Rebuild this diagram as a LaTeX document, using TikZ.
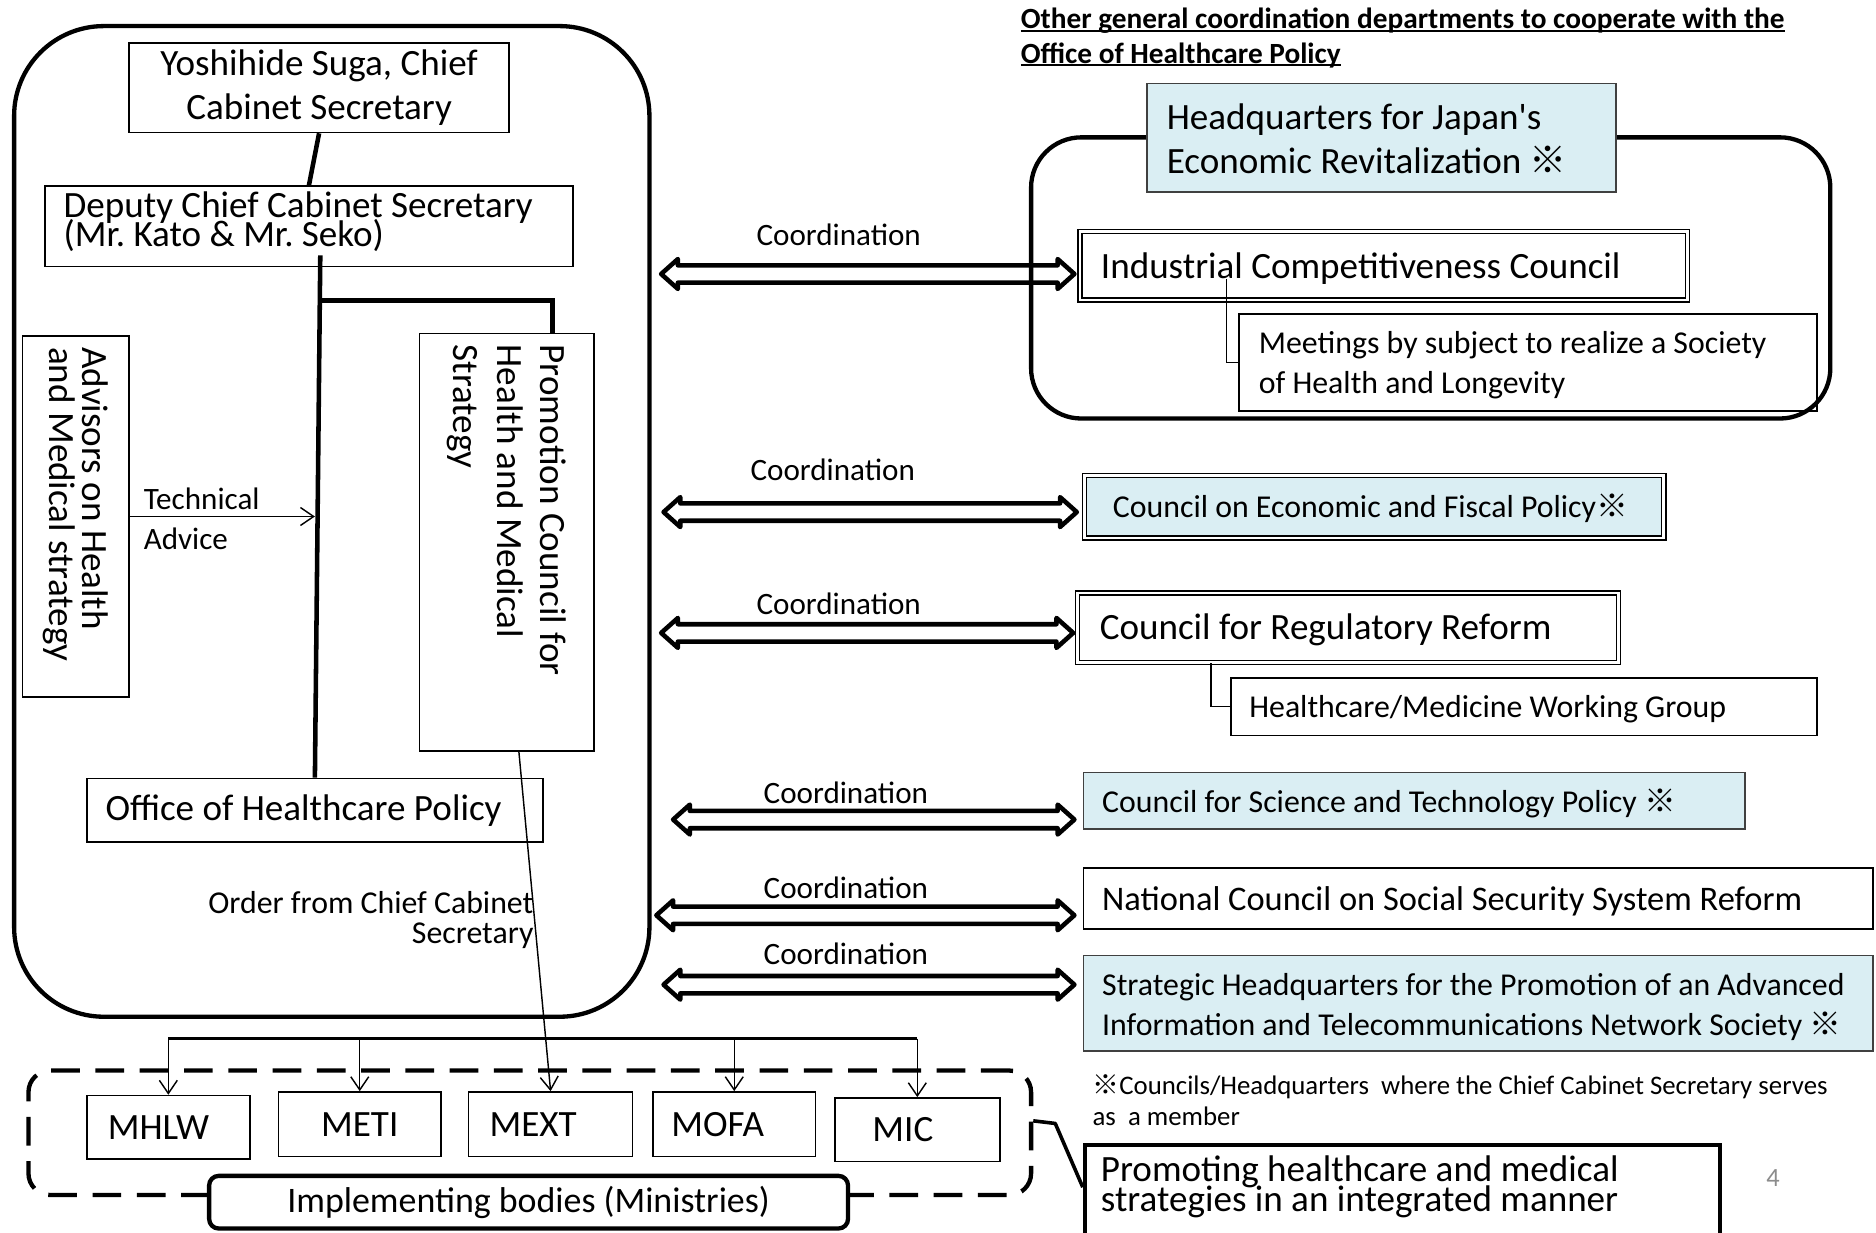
\documentclass[tikz,border=0pt]{standalone}
\usepackage{fontspec}
\setmainfont{Carlito}
\newfontfamily\cjkfont{Noto Sans CJK JP}
\usetikzlibrary{arrows.meta,calc}
\definecolor{lblue}{RGB}{218,238,243}
\definecolor{pgnum}{RGB}{140,140,140}
\newcommand\kome{{\cjkfont ※}}
\newcommand\ulx[1]{\setbox0\hbox{#1}\rlap{\rule[-2.8pt]{\wd0}{1.6pt}}\box0}
\newcommand\fsBig{\fontsize{31}{37}\selectfont\frenchspacing}
\newcommand\fsMed{\fontsize{26.6}{33}\selectfont}
\newcommand\fsDep{\fontsize{31}{24}\selectfont\lineskiplimit=-40pt\frenchspacing}
\newcommand\fsAdv{\fontsize{31}{28}\selectfont\lineskiplimit=-40pt}
\newcommand\fsPC{\fontsize{31}{36.5}\selectfont}
\newcommand\fsOrd{\fontsize{26.6}{25}\selectfont\lineskiplimit=-40pt}
\newcommand\fsPro{\fontsize{31}{25}\selectfont\lineskiplimit=-40pt}
\newcommand\fsNat{\fontsize{28.8}{34}\selectfont}
\newcommand\fsImp{\fontsize{30}{36}\selectfont}
\newcommand\fsHead{\bfseries\fontsize{24.5}{29}\selectfont}
\newcommand\fsFoot{\fontsize{22.4}{26}\selectfont}
\newcommand\fsCo{\fontsize{26}{31}\selectfont}
\newcommand\fsNum{\fontsize{22}{26}\selectfont}
\newcommand\dblarr[2]{%
  \draw[dblarrow] let \p1=#1, \p2=#2 in
   (\x1,\y1) -- (\x1+14pt,\y1+12.5pt) -- (\x1+14pt,\y1+7.25pt) -- (\x2-14pt,\y1+7.25pt)
   -- (\x2-14pt,\y1+12.5pt) -- (\x2,\y1) -- (\x2-14pt,\y1-12.5pt) -- (\x2-14pt,\y1-7.25pt)
   -- (\x1+14pt,\y1-7.25pt) -- (\x1+14pt,\y1-12.5pt) -- cycle;}
\begin{document}
\begin{tikzpicture}[x=1pt,y=-1pt,
  box/.style={draw=black, line width=1.4pt, inner sep=0pt, anchor=north west},
  dbox/.style={draw=black, line width=1.2pt, double=white, double distance=2.2pt, inner sep=0pt, anchor=north west},
  thickline/.style={line width=3.8pt},
  thinarr/.style={line width=1.2pt, -{Straight Barb[length=11pt,width=15pt]}},
  lbl/.style={inner sep=0pt},
  ltxt/.style={inner sep=0pt, anchor=west, align=left},
  dblarrow/.style={draw, line width=3.8pt, line join=round},
]
\useasboundingbox (0,0) rectangle (1568,1030);
\clip (0,0) rectangle (1568,1030);
\fill[white] (0,0) rectangle (1568,1030);

% ---------- left group ----------
\node[draw, line width=3.6pt, rounded corners=75pt, anchor=north west, minimum width=531pt, minimum height=828pt, inner sep=0pt] (cab) at (10,20) {};
\node[box, minimum width=318pt, minimum height=75pt, align=center, font=\fsBig] (suga) at (107,35) {Yoshihide Suga, Chief\\Cabinet Secretary};
\node[box, minimum width=441pt, minimum height=67pt] (dep) at (37,155) {};
\node[ltxt, font=\fsDep] (depT) at ([xshift=16pt,yshift=4pt]dep.west) {Deputy Chief Cabinet Secretary\\(Mr. Kato \& Mr. Seko)};
\node[box, minimum width=89pt, minimum height=302pt] (adv) at (18,280) {};
\node[ltxt, rotate=-90, font=\fsAdv] (advT) at ([yshift=-10pt]adv.north) {Advisors on Health\\and Medical strategy};
\node[box, minimum width=146pt, minimum height=349pt] (pc) at (350,278) {};
\node[ltxt, rotate=-90, font=\fsPC] (pcT) at ([yshift=-10pt]pc.north) {Promotion Council for\\Health and Medical\\Strategy};
\node[box, minimum width=381pt, minimum height=53pt] (off) at (72,650) {};
\node[ltxt, font=\fsBig] (offT) at ([xshift=16pt]off.west) {Office of Healthcare Policy};
\node[ltxt, font=\fsCo] (tech) at (120,417) {Technical};
\node[ltxt, font=\fsCo] (advc) at (120,450) {Advice};
\node[lbl, anchor=east, align=right, font=\fsOrd] (ord) at (446,769) {Order from Chief Cabinet\\Secretary};

\draw[thickline] (suga.south) -- (dep.north);
\coordinate (tTop) at ([xshift=9.5pt,yshift=10pt]dep.south);
\draw[thickline] (tTop) -- (off.north);
\draw[thickline] ($(tTop)!0.0868!(off.north)$) -| ([xshift=38pt]pc.north);
\draw[thinarr] (adv.east) -- (adv.east -| off.north);

% ---------- ministries ----------
\node[draw, line width=3.6pt, dash pattern=on 24pt off 13pt, rounded corners=18pt, anchor=north west, minimum width=838pt, minimum height=104pt, inner sep=0pt] (minis) at (22,893) {};
\node[box, minimum width=136pt, minimum height=53pt] (mhlw) at (72,915) {};
\node[ltxt, font=\fsBig] (mhlwT) at ([xshift=18pt]mhlw.west) {MHLW};
\node[box, minimum width=136pt, minimum height=54pt, font=\fsBig] (meti) at (232,912) {METI};
\node[box, minimum width=137pt, minimum height=54pt] (mext) at (391,912) {};
\node[ltxt, font=\fsBig] (mextT) at ([xshift=18pt]mext.west) {MEXT};
\node[box, minimum width=136pt, minimum height=54pt] (mofa) at (545,912) {};
\node[ltxt, font=\fsBig] (mofaT) at ([xshift=16pt]mofa.west) {MOFA};
\node[box, minimum width=138pt, minimum height=53pt] (mic) at (697,917) {};
\node[ltxt, font=\fsBig] (micT) at ([xshift=32pt]mic.west) {MIC};
\node[draw, fill=white, line width=3.6pt, rounded corners=8pt, anchor=north west, minimum width=534pt, minimum height=44pt, inner sep=0pt, font=\fsImp] (impl) at (173,981) {Implementing bodies (Ministries)};

\coordinate (busL) at (mhlw.north |- 0,868);
\coordinate (busR) at (mic.north |- 0,868);
\draw[line width=2.4pt] (busL) -- (busR);
\draw[thinarr] (busL) -- (mhlw.north);
\draw[thinarr] (meti.north |- busL) -- (meti.north);
\draw[thinarr] (mofa.north |- busL) -- (mofa.north);
\draw[thinarr] (busR) -- (mic.north);
\draw[thinarr] ([xshift=10pt]pc.south) -- (mext.north);

% ---------- right side ----------
\node[ltxt, font=\fsHead] (head) at (853,31.5) {\ulx{Other general coordination departments to cooperate with the}\\\ulx{Office of Healthcare Policy}};

\node[draw, line width=3.6pt, rounded corners=42pt, anchor=north west, minimum width=668pt, minimum height=235pt, inner sep=0pt] (hqc) at (860,113) {};
\node[box, draw=black!75, fill=lblue, minimum width=392pt, minimum height=91pt] (hq) at (958,69) {};
\node[ltxt, font=\fsBig] (hqT) at ([xshift=17pt,yshift=-1pt]hq.west) {Headquarters for Japan\textquotesingle s\\Economic Revitalization \kome};

\node[dbox, fill=white, minimum width=508pt, minimum height=57pt] (ind) at (902,193) {};
\node[ltxt, font=\fsBig] (indT) at ([xshift=18pt,yshift=-2.5pt]ind.west) {Industrial Competitiveness Council};
\node[box, minimum width=483pt, minimum height=81pt] (meet) at (1035,262) {};
\node[ltxt, font=\fsMed] (meetT) at ([xshift=17pt,yshift=-2pt]meet.west) {Meetings by subject to realize a Society\\of Health and Longevity};
\draw[line width=1.2pt] ([xshift=123pt,yshift=18pt]ind.south west) |- (meet.west);

\node[dbox, fill=lblue, minimum width=484pt, minimum height=52pt] (econ) at (906,397) {};
\node[ltxt, font=\fsMed] (econT) at ([xshift=24pt,yshift=-1pt]econ.west) {Council on Economic and Fiscal Policy\kome};

\node[dbox, fill=white, minimum width=452pt, minimum height=58pt] (reg) at (900,495) {};
\node[ltxt, font=\fsBig] (regT) at ([xshift=19pt,yshift=-2pt]reg.west) {Council for Regulatory Reform};
\node[box, minimum width=490pt, minimum height=48pt] (wg) at (1028,566) {};
\node[ltxt, font=\fsMed] (wgT) at ([xshift=16pt,yshift=-2pt]wg.west) {Healthcare/Medicine Working Group};
\draw[line width=1.2pt] ([xshift=112pt]reg.south west) |- (wg.west);

\node[box, draw=black!75, fill=lblue, minimum width=553pt, minimum height=47pt] (sci) at (905,645) {};
\node[ltxt, font=\fsMed] (sciT) at ([xshift=16pt,yshift=-2pt]sci.west) {Council for Science and Technology Policy \kome};

\node[box, minimum width=660pt, minimum height=51pt] (nat) at (905,725) {};
\node[ltxt, font=\fsNat] (natT) at ([xshift=16pt,yshift=-2pt]nat.west) {National Council on Social Security System Reform};

\node[box, draw=black!75, fill=lblue, minimum width=660pt, minimum height=80pt] (strat) at (905,798) {};
\node[ltxt, font=\fsMed] (stratT) at ([xshift=16pt,yshift=-3pt]strat.west) {Strategic Headquarters for the Promotion of an Advanced\\Information and Telecommunications Network Society \kome};

\node[ltxt, font=\fsFoot] (foot) at (913,919.5) {\kome Councils/Headquarters\ \ where the Chief Cabinet Secretary serves\\as\ \ a member};

\node[draw, line width=3.6pt, anchor=north west, minimum width=531pt, minimum height=95pt, inner sep=0pt] (promo) at (905,955) {};
\node[lbl, anchor=north west, align=left, font=\fsPro] (promoT) at ([xshift=15pt,yshift=-11pt]promo.north west) {Promoting healthcare and medical\\strategies in an integrated manner};
\coordinate (kink) at (882,939);
\draw[line width=3pt, line join=round] ([yshift=10pt]minis.east) -- (kink) -- ([yshift=12pt]promo.west);

\node[lbl, font=\fsNum, text=pgnum] (pnum) at (1482,985) {4};

% ---------- coordination arrows ----------
\node[lbl, font=\fsCo] (c1) at (701,196) {Coordination};
\node[lbl, font=\fsCo] (c2) at (696,393) {Coordination};
\node[lbl, font=\fsCo] (c3) at (701,505) {Coordination};
\node[lbl, font=\fsCo] (c4) at (707,663) {Coordination};
\node[lbl, font=\fsCo] (c5) at (707,742) {Coordination};
\node[lbl, font=\fsCo] (c6) at (707,797) {Coordination};
\dblarr{([xshift=8pt]cab.east |- 0,229)}{([xshift=-4pt]ind.west |- 0,229)}
\dblarr{([xshift=10pt]cab.east |- 0,428)}{([xshift=-6pt]econ.west |- 0,428)}
\dblarr{([xshift=8pt]cab.east |- 0,529)}{([xshift=-3pt]reg.west |- 0,529)}
\dblarr{([xshift=18pt]cab.east |- 0,685)}{([xshift=-7pt]sci.west |- 0,685)}
\dblarr{([xshift=4pt]cab.east |- 0,765)}{([xshift=-7pt]nat.west |- 0,765)}
\dblarr{([xshift=10pt]cab.east |- 0,823)}{([xshift=-7pt]strat.west |- 0,823)}
\end{tikzpicture}
\end{document}
